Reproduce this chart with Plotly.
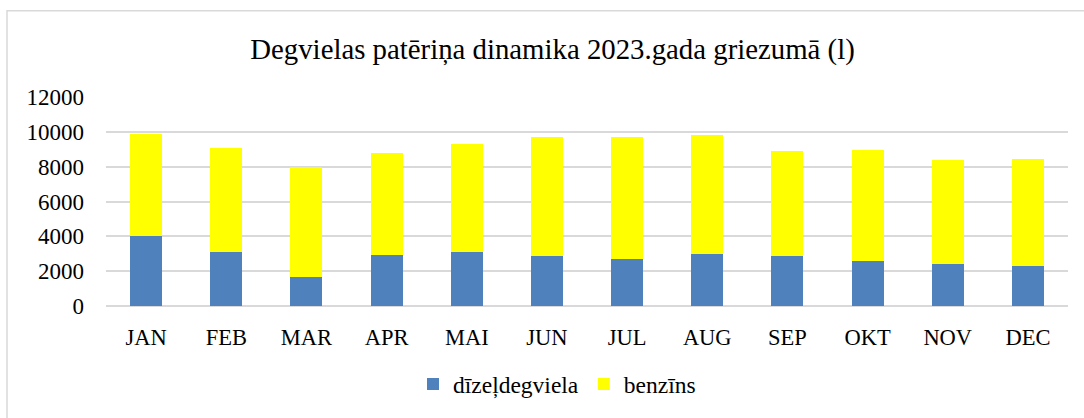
import plotly.graph_objects as go

months = ["JAN", "FEB", "MAR", "APR", "MAI", "JUN", "JUL", "AUG", "SEP", "OKT", "NOV", "DEC"]
diesel = [4030, 3080, 1640, 2900, 3110, 2850, 2680, 2960, 2890, 2580, 2430, 2320]
petrol = [5840, 5980, 6320, 5880, 6190, 6830, 7010, 6830, 6000, 6380, 5930, 6110]
y_ticks = [0, 2000, 4000, 6000, 8000, 10000, 12000]
y_tick_text = [str(v) for v in y_ticks]

FONT = "Liberation Serif"

fig = go.Figure()
fig.add_trace(go.Bar(x=months, y=diesel, name="dīzeļdegviela",
                     marker=dict(color="#4f81bd", line=dict(width=0))))
fig.add_trace(go.Bar(x=months, y=petrol, name="benzīns",
                     marker=dict(color="#ffff00", line=dict(width=0))))

W, H = 1084, 418
L, R, T, B = 106, 16, 97, 110
pw, ph = W - L - R, H - T - B

def px_x(x):
    return (x - L) / pw

def px_y(y):
    return (H - B - y) / ph

fig.update_layout(
    width=W, height=H,
    barmode="stack",
    bargap=0.6,
    plot_bgcolor="white",
    paper_bgcolor="white",
    margin=dict(l=L, r=R, t=T, b=B),
    font=dict(family=FONT, size=22, color="#000000"),
    title=dict(text="Degvielas patēriņa dinamika 2023.gada griezumā (l)",
               x=552.5 / W, xref="container", xanchor="center",
               y=1 - 49 / H, yref="container", yanchor="middle",
               font=dict(family=FONT, size=28.8, color="#000000")),
    showlegend=True,
    legend=dict(orientation="h", x=px_x(557), xanchor="center",
                y=px_y(387), yanchor="middle",
                font=dict(family=FONT, size=23.5, color="#000000"),
                traceorder="normal"),
    xaxis=dict(showgrid=False, showline=False, ticks="", zeroline=False,
               tickfont=dict(family=FONT, size=22.5),
               ticklabelstandoff=15),
    yaxis=dict(range=[0, 12000], tickvals=y_ticks, ticktext=y_tick_text,
               showgrid=True,
               gridcolor="#d9d9d9", gridwidth=1.5, zeroline=True,
               zerolinecolor="#d9d9d9", zerolinewidth=1.5, showline=False,
               ticks="", tickfont=dict(family=FONT, size=23),
               ticklabelstandoff=21),
    shapes=[dict(type="rect", xref="paper", yref="paper",
                 x0=px_x(7), x1=px_x(1092), y0=px_y(430), y1=px_y(10),
                 line=dict(color="#d9d9d9", width=1.5), fillcolor="rgba(0,0,0,0)",
                 layer="below")],
)

fig.write_html("out.html",
               config={"displayModeBar": False},
               post_script="document.body.style.margin='0';document.body.style.overflow='hidden';")
